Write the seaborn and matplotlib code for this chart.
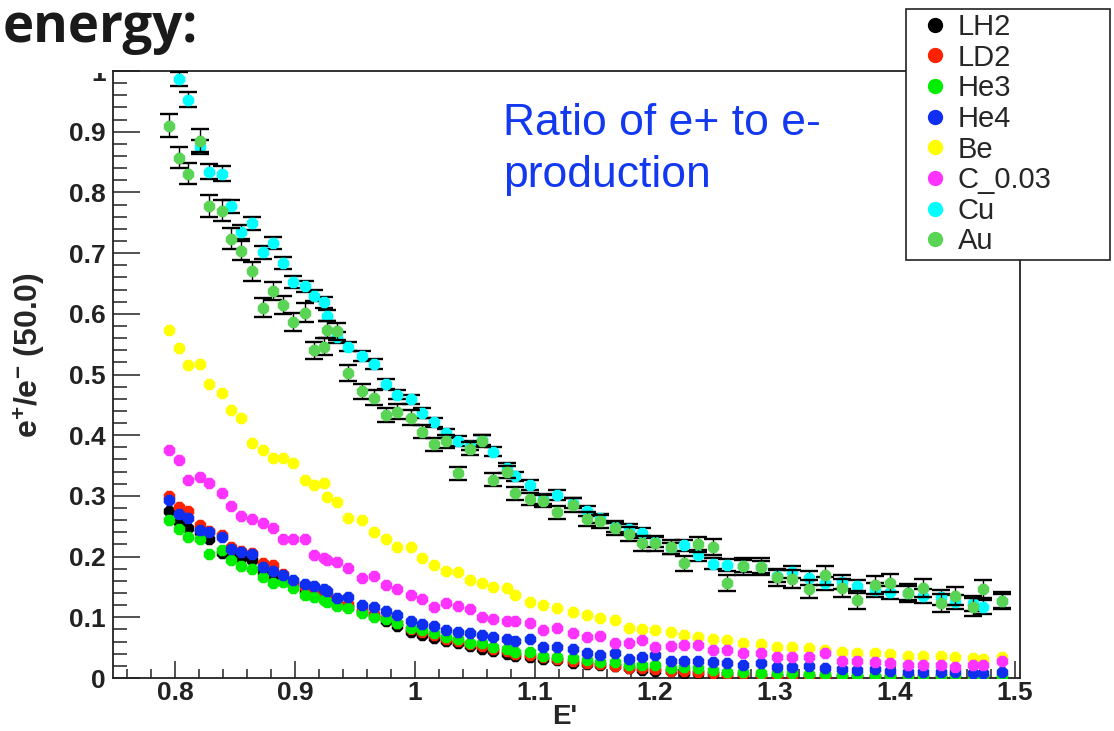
import matplotlib
matplotlib.use("Agg")
import matplotlib.pyplot as plt
from matplotlib.lines import Line2D
from matplotlib.patches import Rectangle
from matplotlib.ticker import MultipleLocator, FormatStrFormatter
import seaborn as sns
import pandas as pd

# bin centres of E' (bins are not evenly spaced)
e_prime = [0.795, 0.803, 0.811, 0.821, 0.828, 0.839, 0.847, 0.855, 0.864, 0.873,
           0.882, 0.890, 0.898, 0.908, 0.916, 0.924, 0.927, 0.935, 0.944, 0.956,
           0.966, 0.976, 0.985, 0.997, 1.006, 1.016, 1.026, 1.036, 1.046, 1.056,
           1.065, 1.077, 1.083, 1.096, 1.107, 1.118, 1.132, 1.143, 1.154, 1.167,
           1.178, 1.189, 1.200, 1.213, 1.224, 1.236, 1.248, 1.260, 1.273, 1.288,
           1.302, 1.314, 1.328, 1.342, 1.356, 1.368, 1.383, 1.396, 1.411, 1.423,
           1.438, 1.450, 1.465, 1.473, 1.489]

lh2 = [0.275, 0.257, 0.247, 0.240, 0.229, 0.206, 0.205, 0.197, 0.195, 0.175,
       0.170, 0.163, 0.153, 0.143, 0.140, 0.135, 0.132, 0.120, 0.117, 0.108,
       0.102, 0.094, 0.086, 0.076, 0.071, 0.066, 0.061, 0.057, 0.053, 0.048,
       0.044, 0.040, 0.037, 0.035, 0.031, 0.029, 0.025, 0.023, 0.021, 0.019,
       0.016, 0.014, 0.012, 0.011, 0.008, 0.008, 0.007, 0.006, 0.005, 0.004,
       0.004, 0.003, 0.003, 0.002, 0.002, 0.002, 0.001, 0.001, 0.001, 0.000,
       0.001, 0.000, 0.000, 0.001, 0.000]

ld2 = [0.300, 0.281, 0.275, 0.252, 0.243, 0.236, 0.216, 0.210, 0.206, 0.190,
       0.186, 0.172, 0.158, 0.150, 0.146, 0.140, 0.137, 0.125, 0.122, 0.112,
       0.106, 0.099, 0.091, 0.081, 0.076, 0.071, 0.065, 0.061, 0.056, 0.053,
       0.048, 0.045, 0.040, 0.038, 0.034, 0.032, 0.028, 0.025, 0.023, 0.020,
       0.017, 0.016, 0.015, 0.012, 0.011, 0.010, 0.008, 0.007, 0.006, 0.005,
       0.004, 0.004, 0.003, 0.003, 0.002, 0.002, 0.002, 0.001, 0.001, 0.001,
       0.000, 0.000, 0.000, -0.001, -0.001]

he3 = [0.260, 0.245, 0.232, 0.229, 0.204, 0.211, 0.194, 0.184, 0.179, 0.166,
       0.156, 0.158, 0.148, 0.137, 0.133, 0.128, 0.126, 0.118, 0.115, 0.107,
       0.100, 0.097, 0.090, 0.082, 0.079, 0.074, 0.067, 0.064, 0.058, 0.058,
       0.051, 0.048, 0.043, 0.043, 0.036, 0.035, 0.033, 0.030, 0.026, 0.026,
       0.021, 0.021, 0.021, 0.016, 0.018, 0.016, 0.013, 0.010, 0.010, 0.008,
       0.008, 0.008, 0.007, 0.006, 0.005, 0.005, 0.004, 0.004, 0.003, 0.002,
       0.003, 0.005, 0.003, 0.003, 0.003]

he4 = [0.293, 0.270, 0.263, 0.244, 0.240, 0.232, 0.212, 0.207, 0.204, 0.183,
       0.176, 0.169, 0.161, 0.155, 0.151, 0.146, 0.143, 0.132, 0.133, 0.120,
       0.117, 0.110, 0.104, 0.094, 0.089, 0.086, 0.079, 0.076, 0.074, 0.071,
       0.067, 0.064, 0.061, 0.064, 0.051, 0.051, 0.048, 0.041, 0.038, 0.041,
       0.031, 0.035, 0.038, 0.028, 0.028, 0.028, 0.026, 0.025, 0.021, 0.025,
       0.018, 0.018, 0.020, 0.016, 0.015, 0.013, 0.015, 0.012, 0.010, 0.010,
       0.010, 0.010, 0.009, 0.009, 0.010]

be = [0.574, 0.543, 0.515, 0.518, 0.484, 0.469, 0.441, 0.428, 0.387, 0.375,
      0.362, 0.362, 0.354, 0.326, 0.318, 0.322, 0.298, 0.290, 0.263, 0.260,
      0.240, 0.229, 0.216, 0.216, 0.197, 0.186, 0.176, 0.174, 0.161, 0.156,
      0.150, 0.148, 0.137, 0.125, 0.120, 0.115, 0.109, 0.104, 0.099, 0.095,
      0.082, 0.081, 0.079, 0.076, 0.071, 0.067, 0.064, 0.063, 0.058, 0.056,
      0.051, 0.051, 0.049, 0.046, 0.043, 0.041, 0.041, 0.039, 0.036, 0.036,
      0.036, 0.035, 0.033, 0.031, 0.035]

c003 = [0.375, 0.359, 0.327, 0.331, 0.321, 0.304, 0.283, 0.267, 0.262, 0.255,
        0.247, 0.229, 0.229, 0.229, 0.202, 0.197, 0.194, 0.191, 0.181, 0.165,
        0.168, 0.153, 0.146, 0.137, 0.130, 0.117, 0.123, 0.118, 0.114, 0.100,
        0.097, 0.094, 0.094, 0.090, 0.079, 0.082, 0.074, 0.067, 0.069, 0.058,
        0.058, 0.063, 0.051, 0.053, 0.054, 0.054, 0.046, 0.046, 0.041, 0.041,
        0.035, 0.035, 0.035, 0.041, 0.028, 0.028, 0.026, 0.025, 0.021, 0.021,
        0.021, 0.018, 0.021, 0.021, 0.028]

cu = [1.020, 0.987, 0.953, 0.875, 0.834, 0.831, 0.777, 0.735, 0.749, 0.701,
      0.716, 0.683, 0.652, 0.645, 0.630, 0.619, 0.597, 0.561, 0.546, 0.530,
      0.517, 0.484, 0.467, 0.459, 0.436, 0.421, 0.403, 0.390, 0.383, 0.392,
      0.373, 0.346, 0.332, 0.318, 0.295, 0.301, 0.288, 0.275, 0.263, 0.248,
      0.245, 0.239, 0.224, 0.214, 0.219, 0.202, 0.188, 0.186, 0.184, 0.183,
      0.168, 0.174, 0.165, 0.156, 0.158, 0.151, 0.145, 0.141, 0.140, 0.135,
      0.133, 0.125, 0.123, 0.117, 0.127]

au = [0.910, 0.857, 0.831, 0.885, 0.777, 0.770, 0.724, 0.704, 0.670, 0.610,
      0.638, 0.615, 0.586, 0.602, 0.540, 0.546, 0.574, 0.571, 0.503, 0.472,
      0.462, 0.433, 0.439, 0.429, 0.406, 0.385, 0.390, 0.337, 0.378, 0.390,
      0.327, 0.339, 0.304, 0.295, 0.291, 0.273, 0.285, 0.262, 0.258, 0.247,
      0.237, 0.222, 0.222, 0.216, 0.189, 0.220, 0.216, 0.157, 0.184, 0.183,
      0.166, 0.163, 0.146, 0.169, 0.148, 0.128, 0.153, 0.156, 0.140, 0.148,
      0.123, 0.135, 0.117, 0.146, 0.127]

cu_err = [0.013, 0.012, 0.013, 0.012, 0.012, 0.012, 0.011, 0.011, 0.011, 0.010,
          0.010, 0.010, 0.010, 0.009, 0.009, 0.009, 0.009, 0.009, 0.008, 0.008,
          0.008, 0.008, 0.008, 0.008, 0.008, 0.008, 0.008, 0.008, 0.008, 0.008,
          0.008, 0.008, 0.008, 0.008, 0.008, 0.008, 0.008, 0.008, 0.008, 0.008,
          0.008, 0.008, 0.008, 0.009, 0.009, 0.009, 0.009, 0.010, 0.010, 0.010,
          0.010, 0.010, 0.011, 0.011, 0.011, 0.011, 0.011, 0.011, 0.011, 0.012,
          0.012, 0.012, 0.012, 0.012, 0.012]

au_err = [0.019, 0.017, 0.017, 0.019, 0.018, 0.017, 0.017, 0.016, 0.016, 0.016,
          0.015, 0.015, 0.015, 0.015, 0.014, 0.014, 0.014, 0.014, 0.013, 0.012,
          0.012, 0.012, 0.012, 0.012, 0.011, 0.011, 0.011, 0.010, 0.010, 0.010,
          0.010, 0.010, 0.010, 0.010, 0.010, 0.011, 0.011, 0.011, 0.011, 0.011,
          0.011, 0.012, 0.012, 0.012, 0.012, 0.013, 0.013, 0.013, 0.014, 0.014,
          0.014, 0.015, 0.015, 0.016, 0.015, 0.015, 0.015, 0.015, 0.015, 0.015,
          0.015, 0.015, 0.015, 0.015, 0.014]

targets = ["LH2", "LD2", "He3", "He4", "Be", "C_0.03", "Cu", "Au"]
series = [lh2, ld2, he3, he4, be, c003, cu, au]
errors = {"Cu": cu_err, "Au": au_err}

palette = {"LH2": "#000000", "LD2": "#ff2200", "He3": "#00ee00", "He4": "#0f2ff0",
           "Be": "#ffff00", "C_0.03": "#ff33ff", "Cu": "#00ffff", "Au": "#59d454"}

rows = []
for name, vals in zip(targets, series):
    for e, r in zip(e_prime, vals):
        rows.append({"E": e, "ratio": r, "target": name})
df = pd.DataFrame(rows)

sns.set_theme(style="ticks")
plt.rcParams["font.family"] = ["Liberation Sans", "DejaVu Sans"]
plt.rcParams["font.weight"] = "bold"
plt.rcParams["mathtext.fontset"] = "custom"
plt.rcParams["mathtext.rm"] = "Liberation Sans"
plt.rcParams["mathtext.bf"] = "Liberation Sans:bold"
plt.rcParams["mathtext.default"] = "bf"

fig = plt.figure(figsize=(11.14, 7.31), dpi=100)
ax = fig.add_axes([0.10144, 0.0725, 0.81418, 0.83037])

# draw target by target so later ones sit on top, like the original
for i, name in enumerate(targets):
    sub = df[df["target"] == name]
    if name in errors:
        ax.errorbar(sub["E"], sub["ratio"], yerr=errors[name], fmt="none",
                    ecolor="black", elinewidth=1.0, capsize=6.5, capthick=1.7,
                    zorder=2 + 2 * i)
    sns.scatterplot(data=sub, x="E", y="ratio", color=palette[name], marker="8",
                    s=80, linewidth=0, legend=False, ax=ax, zorder=3 + 2 * i)

ax.set_xlim(0.7483, 1.5042)
ax.set_ylim(0, 1.0)
ax.xaxis.set_major_locator(MultipleLocator(0.1))
ax.xaxis.set_minor_locator(MultipleLocator(0.02))
ax.yaxis.set_major_locator(MultipleLocator(0.1))
ax.yaxis.set_minor_locator(MultipleLocator(0.02))
ax.xaxis.set_major_formatter(FormatStrFormatter("%g"))
ax.yaxis.set_major_formatter(FormatStrFormatter("%g"))

ax.tick_params(which="both", direction="in", top=False, right=False,
               width=1.1, colors="#222222", labelsize=19)
ax.tick_params(axis="y", which="major", length=19.5, pad=5)
ax.tick_params(axis="y", which="minor", length=10)
ax.tick_params(axis="x", which="major", length=12.5, pad=2)
ax.tick_params(axis="x", which="minor", length=6.5)
for sp in ax.spines.values():
    sp.set_linewidth(1.3)
    sp.set_color("#222222")

ax.set_xlabel("E'", fontsize=20, fontweight="bold", va="bottom")
ax.set_ylabel(r"e$^{+}$/e$^{-}$ (50.0)", fontsize=23, fontweight="bold")
ax.xaxis.set_label_coords(0.498, -0.0855)
ax.yaxis.set_label_coords(-0.072, 0.532)

# white patch over the top of the y axis labels (slide title box)
fig.add_artist(Rectangle((0, 1 - 73 / 731), 112 / 1114, 73 / 731,
                         transform=fig.transFigure, facecolor="white",
                         edgecolor="none", zorder=4))
fig.text(0.002, 1 - 42 / 731, "energy:", fontsize=38, fontweight="bold",
         family=["Open Sans", "DejaVu Sans"], color="#1a1a1a",
         va="baseline", ha="left", zorder=6)

fig.text(503 / 1114, 1 - 135 / 731, "Ratio of e+ to e-", fontsize=32,
         fontweight="normal", color="#1238f0", va="baseline", ha="left")
fig.text(503 / 1114, 1 - 187 / 731, "production", fontsize=32,
         fontweight="normal", color="#1238f0", va="baseline", ha="left")

# legend box sits over the frame corner
fig.add_artist(Rectangle((906 / 1114, 1 - 260 / 731), 204 / 1114, 251 / 731,
                         transform=fig.transFigure, facecolor="white",
                         edgecolor="#222222", linewidth=1.2, zorder=5))
handles = [Line2D([], [], marker="o", linestyle="none", color=palette[n],
                  markersize=10) for n in targets]
leg = fig.legend(handles, targets, loc="upper left",
                 bbox_to_anchor=(922 / 1114, 1 - 13 / 731), frameon=False,
                 borderpad=0, borderaxespad=0, handlelength=0.9,
                 handletextpad=0.33, labelspacing=0.09,
                 prop={"size": 21, "weight": "normal"})
leg.set_zorder(6)

fig.savefig("out.png", dpi=100)
